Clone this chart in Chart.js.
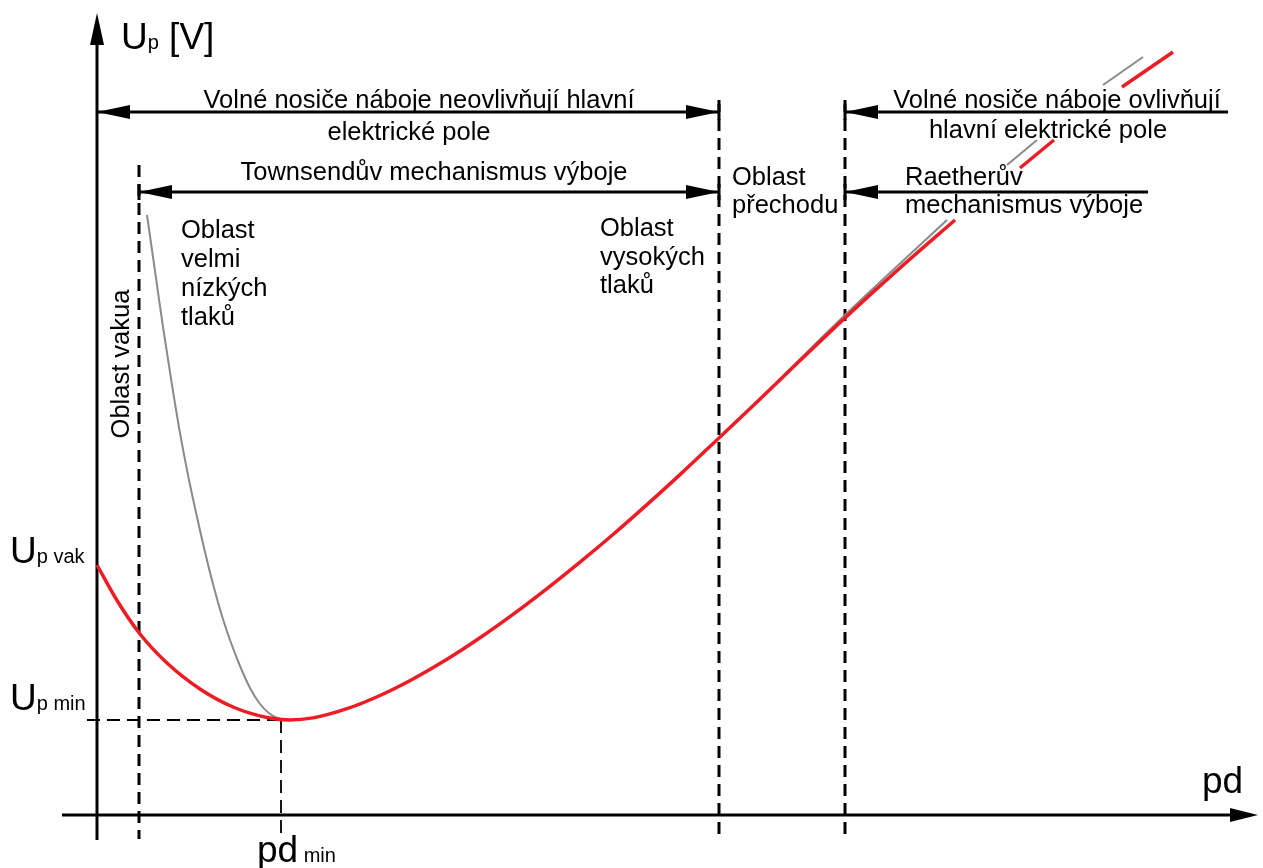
<!DOCTYPE html>
<html><head><meta charset="utf-8">
<script src="https://cdn.jsdelivr.net/npm/chart.js@4.4.1/dist/chart.umd.min.js"></script>
<style>html,body{margin:0;padding:0;background:#fff}canvas{display:block}</style>
</head><body>
<canvas id="c" width="1263" height="868"></canvas>
<script>
// Paschen curve (schematic, arbitrary units): pd on x, Up on y
const redPd = [0, 2.1, 4.3, 7.0, 10.3, 13.6, 17.0, 19.3, 21.6, 25.0, 28.3, 31.6, 35.0, 38.3, 41.6, 45.0, 48.3, 51.6, 55.0, 58.3, 62.2, 66.1, 70.3, 74.8, 80.3, 85.8, null, 92.3, 95.7, null, 102.5, 107.6];
const redUp = [25.0, 21.3, 18.1, 15.2, 12.6, 10.8, 9.75, 9.5, 9.71, 10.63, 11.95, 13.6, 15.57, 17.72, 20.06, 22.64, 25.28, 28.05, 31.04, 34.04, 37.71, 41.41, 45.44, 49.71, 54.71, 59.5, null, 64.7, 67.5, null, 72.8, 76.3];
const grayPd = [5.0, 5.8, 6.6, 7.5, 8.3, 9.2, 10.0, 10.8, 11.6, 12.5, 13.3, 14.3, 15.3, 16.3, 17.3, 18.3, 19.3, null, 62.2, 66.1, 68.0, 74.8, 85.0, null, 91.0, 94.0, null, 100.6, 104.6];
const grayUp = [60.0, 54.4, 48.8, 43.0, 38.2, 33.5, 29.8, 26.3, 23.1, 19.9, 17.5, 14.9, 12.7, 11.1, 10.1, 9.62, 9.5, null, 37.71, 41.41, 43.3, 50.0, 59.5, null, 65.0, 67.5, null, 73.0, 75.8];

const regionBounds = [4.2, 62.2, 74.8];
const pdMin = 18.4;
const upMin = 9.5;
const upVak = 25.0;

const topLeftLabel = ['Volné nosiče náboje neovlivňují hlavní', 'elektrické pole'];
const topRightLabel = ['Volné nosiče náboje ovlivňují', 'hlavní elektrické pole'];
const townsendLabel = 'Townsendův mechanismus výboje';
const transitionLabel = ['Oblast', 'přechodu'];
const raetherLabel = ['Raetherův', 'mechanismus výboje'];
const lowPressureLabel = ['Oblast', 'velmi', 'nízkých', 'tlaků'];
const highPressureLabel = ['Oblast', 'vysokých', 'tlaků'];
const vacuumLabel = 'Oblast vakua';

const toPts = (xs, ys) => xs.map((x, i) => ({ x: x, y: ys[i] }));

const FONT = '"Liberation Sans", Arial, sans-serif';

const diagram = {
  id: 'diagram',
  beforeDatasetsDraw(chart) {
    const ctx = chart.ctx, xs = chart.scales.x, ys = chart.scales.y;
    const X = v => xs.getPixelForValue(v), Y = v => ys.getPixelForValue(v);
    ctx.save();
    ctx.strokeStyle = '#000';
    ctx.fillStyle = '#000';
    // axes
    ctx.lineWidth = 3;
    ctx.setLineDash([]);
    ctx.beginPath();
    ctx.moveTo(X(0), Y(-2.5)); ctx.lineTo(X(0), Y(78));
    ctx.moveTo(X(-3.5), Y(0)); ctx.lineTo(X(114), Y(0));
    ctx.stroke();
    // arrowheads for axes
    ctx.beginPath();
    ctx.moveTo(X(0), Y(80.2)); ctx.lineTo(X(0) - 7, Y(77)); ctx.lineTo(X(0) + 7, Y(77)); ctx.closePath();
    ctx.fill();
    ctx.beginPath();
    ctx.moveTo(X(116.1), Y(0)); ctx.lineTo(X(113.3), Y(0) - 7); ctx.lineTo(X(113.3), Y(0) + 7); ctx.closePath();
    ctx.fill();
    // region boundaries (dashed)
    ctx.lineWidth = 3;
    ctx.setLineDash([12, 7]);
    const tops = [65.0, 71.5, 71.5];
    regionBounds.forEach((b, i) => {
      ctx.beginPath();
      ctx.moveTo(X(b), Y(tops[i])); ctx.lineTo(X(b), Y(-2.4));
      ctx.stroke();
    });
    // pd_min / Up_min guides
    ctx.lineWidth = 1.8;
    ctx.setLineDash([13, 7]);
    ctx.beginPath();
    ctx.moveTo(X(-1), Y(upMin)); ctx.lineTo(X(pdMin), Y(upMin));
    ctx.moveTo(X(pdMin), Y(upMin)); ctx.lineTo(X(pdMin), Y(-1.8));
    ctx.stroke();
    ctx.restore();
  },
  afterDatasetsDraw(chart) {
    const ctx = chart.ctx, xs = chart.scales.x, ys = chart.scales.y;
    const X = v => xs.getPixelForValue(v), Y = v => ys.getPixelForValue(v);
    ctx.save();
    ctx.strokeStyle = '#000';
    ctx.fillStyle = '#000';
    ctx.setLineDash([]);
    const head = (x, y, dir) => {
      ctx.beginPath();
      ctx.moveTo(x, y); ctx.lineTo(x + dir * 33, y - 7); ctx.lineTo(x + dir * 33, y + 7); ctx.closePath();
      ctx.fill();
    };
    const hline = (x1, x2, yv, leftHead, rightHead) => {
      ctx.lineWidth = 3;
      ctx.beginPath(); ctx.moveTo(X(x1), Y(yv)); ctx.lineTo(X(x2), Y(yv)); ctx.stroke();
      if (leftHead) head(X(x1), Y(yv), 1);
      if (rightHead) head(X(x2), Y(yv), -1);
    };
    const tick = (xv, yv) => {
      ctx.lineWidth = 3;
      ctx.beginPath(); ctx.moveTo(X(xv), Y(yv) - 8); ctx.lineTo(X(xv), Y(yv) + 8); ctx.stroke();
    };
    hline(0, regionBounds[1], 70.3, true, true);
    hline(regionBounds[0], regionBounds[1], 62.3, true, true);
    hline(regionBounds[2], 113.1, 70.3, true, false);
    hline(regionBounds[2], 105.1, 62.3, true, false);
    tick(regionBounds[0], 62.3); tick(regionBounds[1], 62.3); tick(regionBounds[1], 70.3);
    tick(regionBounds[2], 62.3); tick(regionBounds[2], 70.3);

    // texts
    ctx.textBaseline = 'alphabetic';
    ctx.font = '25.5px ' + FONT;
    ctx.textAlign = 'center';
    ctx.fillText(topLeftLabel[0], X(32.2), Y(70.7));
    ctx.fillText(topLeftLabel[1], X(31.2), Y(67.5));
    ctx.fillText(townsendLabel, X(33.7), Y(63.5));
    ctx.fillText(topRightLabel[0], X(96.0), Y(70.7));
    ctx.fillText(topRightLabel[1], X(95.1), Y(67.7));
    ctx.textAlign = 'left';
    transitionLabel.forEach((t, i) => ctx.fillText(t, X(63.5), Y(63.0 - i * 2.8)));
    raetherLabel.forEach((t, i) => ctx.fillText(t, X(80.8), Y(63.0 - i * 2.8)));
    lowPressureLabel.forEach((t, i) => ctx.fillText(t, X(8.4), Y(57.7 - i * 2.9)));
    highPressureLabel.forEach((t, i) => ctx.fillText(t, X(50.3), Y(57.9 - i * 2.85)));
    // rotated vacuum label
    ctx.save();
    ctx.translate(X(3.2), Y(45.1));
    ctx.rotate(-Math.PI / 2);
    ctx.textAlign = 'center';
    ctx.fillText(vacuumLabel, 0, 0);
    ctx.restore();

    // axis labels with subscripts
    const big = '37px ' + FONT, small = '20px ' + FONT;
    const runs = (parts, x, y) => {
      let cx = x;
      parts.forEach(([txt, f]) => { ctx.font = f; ctx.fillText(txt, cx, y); cx += ctx.measureText(txt).width; });
    };
    ctx.textAlign = 'left';
    runs([['U', big], ['p', small], [' [V]', big]], X(2.4), Y(76.6));
    runs([['U', big], ['p vak', small]], X(-8.7), Y(upVak + 0.2));
    runs([['U', big], ['p min', small]], X(-8.7), Y(upMin + 1.0));
    runs([['pd', big], [' min', small]], X(16.0), Y(-4.7));
    runs([['pd', big]], X(110.5), Y(2.2));
    ctx.restore();
  }
};

new Chart(document.getElementById('c'), {
  type: 'scatter',
  data: {
    datasets: [
      { label: 'Up (real)', data: toPts(redPd, redUp), showLine: true, borderColor: '#ee1c25', borderWidth: 3.5,
        pointRadius: 0, cubicInterpolationMode: 'monotone', spanGaps: false, order: 0 },
      { label: 'Up (Townsend theory)', data: toPts(grayPd, grayUp), showLine: true, borderColor: '#8a8a8a', borderWidth: 2,
        pointRadius: 0, cubicInterpolationMode: 'monotone', spanGaps: false, order: 1 }
    ]
  },
  options: {
    responsive: false,
    devicePixelRatio: 1,
    animation: false,
    layout: { padding: 0 },
    plugins: { legend: { display: false }, tooltip: { enabled: false } },
    scales: {
      x: { type: 'linear', min: -9.7, max: 116.6, display: false },
      y: { type: 'linear', min: -5.3, max: 81.5, display: false }
    }
  },
  plugins: [diagram]
});
</script>
</body></html>
